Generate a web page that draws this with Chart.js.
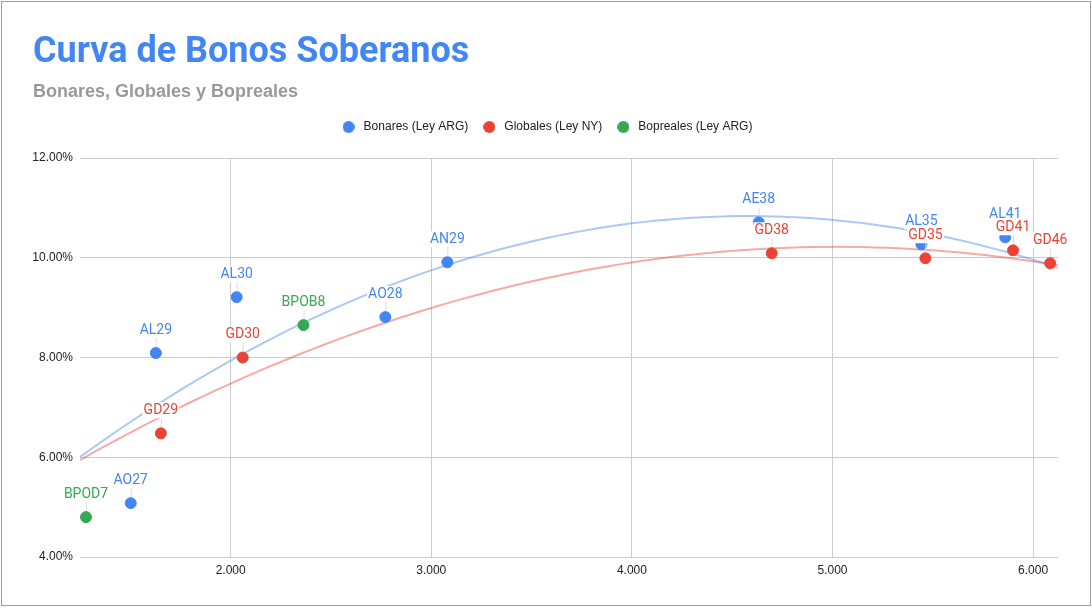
<!DOCTYPE html>
<html>
<head>
<meta charset="utf-8">
<script src="https://cdn.jsdelivr.net/npm/chart.js@4.4.1/dist/chart.umd.min.js"></script>
<style>
  html, body { margin: 0; padding: 0; background: #fff; }
  #wrap { position: relative; width: 1092px; height: 609px; }
  #frame { position: absolute; left: 1px; top: 1px; width: 1088px; height: 603px; border: 1px solid #9e9e9e; pointer-events: none; }
  #title { position: absolute; left: 33px; top: 29px; font: bold 36px Roboto, sans-serif; color: #4285f4; white-space: nowrap; }
  #subtitle { position: absolute; left: 33px; top: 81px; font: bold 18px "Liberation Sans", Arial, sans-serif; color: #999; white-space: nowrap; }
  canvas { position: absolute; left: 0; top: 0; }
</style>
</head>
<body>
<div id="wrap">
  <canvas id="chart" width="1092" height="609"></canvas>
  <div id="title">Curva de Bonos Soberanos</div>
  <div id="subtitle">Bonares, Globales y Bopreales</div>
  <div id="frame"></div>
</div>
<script>
// duration (x) vs TIR (y, %)
const bonaresNames = ['AO27', 'AL29', 'AL30', 'AO28', 'AN29', 'AE38', 'AL35', 'AL41'];
const bonaresX = [1.502, 1.627, 2.030, 2.771, 3.080, 4.632, 5.443, 5.861];
const bonaresY = [5.08, 8.09, 9.21, 8.81, 9.91, 10.71, 10.27, 10.41];

const globalesNames = ['GD29', 'GD30', 'GD38', 'GD35', 'GD41', 'GD46'];
const globalesX = [1.652, 2.060, 4.697, 5.463, 5.900, 6.085];
const globalesY = [6.48, 8.00, 10.09, 9.99, 10.15, 9.89];

const boprealesNames = ['BPOD7', 'BPOB8'];
const boprealesX = [1.279, 2.363];
const boprealesY = [4.80, 8.65];

const xTicks = [2, 3, 4, 5, 6];
const yTicks = [4, 6, 8, 10, 12];
const xMin = 1.249, xMax = 6.124;

const BLUE = '#4285f4', RED = '#ea4335', GREEN = '#34a853';

function points(xs, ys) {
  return xs.map((x, i) => ({x: x, y: ys[i]}));
}

// least squares, order 2 (same as the sheet's polynomial trendline)
function quadFit(xs, ys) {
  let s = [0, 0, 0, 0, 0], t = [0, 0, 0];
  xs.forEach((x, i) => {
    for (let k = 0; k < 5; k++) s[k] += Math.pow(x, k);
    for (let k = 0; k < 3; k++) t[k] += ys[i] * Math.pow(x, k);
  });
  const m = [[s[0], s[1], s[2], t[0]], [s[1], s[2], s[3], t[1]], [s[2], s[3], s[4], t[2]]];
  for (let c = 0; c < 3; c++) {
    for (let r = c + 1; r < 3; r++) {
      const f = m[r][c] / m[c][c];
      for (let k = c; k < 4; k++) m[r][k] -= f * m[c][k];
    }
  }
  const a = [0, 0, 0];
  for (let r = 2; r >= 0; r--) {
    let v = m[r][3];
    for (let k = r + 1; k < 3; k++) v -= m[r][k] * a[k];
    a[r] = v / m[r][r];
  }
  return a;
}

function trend(xs, ys) {
  const a = quadFit(xs, ys);
  const out = [];
  for (let i = 0; i <= 80; i++) {
    const x = xMin + (xMax - xMin) * i / 80;
    out.push({x: x, y: a[0] + a[1] * x + a[2] * x * x});
  }
  return out;
}

// small dot used as legend marker (keeps the circle 12px but gives room before the text)
function dot(color) {
  const c = document.createElement('canvas');
  c.width = 12; c.height = 12;
  const g = c.getContext('2d');
  g.fillStyle = color;
  g.beginPath();
  g.arc(6, 6, 6, 0, Math.PI * 2);
  g.fill();
  return c;
}

const pointLabels = {
  id: 'pointLabels',
  afterDatasetsDraw(chart) {
    const ctx = chart.ctx;
    chart.data.datasets.forEach((ds, i) => {
      if (!ds.names) return;
      chart.getDatasetMeta(i).data.forEach((pt, j) => {
        ctx.save();
        ctx.font = '14px Roboto';
        const w = ctx.measureText(ds.names[j]).width;
        ctx.fillStyle = '#fff';
        ctx.fillRect(pt.x - w / 2 - 1, pt.y - 31, w + 2, 16);
        ctx.strokeStyle = '#dcdcdc';
        ctx.lineWidth = 1;
        ctx.beginPath();
        ctx.moveTo(pt.x + 0.5, pt.y - 6);
        ctx.lineTo(pt.x + 0.5, pt.y - 15);
        ctx.stroke();
        ctx.fillStyle = ds.backgroundColor;
        ctx.textAlign = 'center';
        ctx.textBaseline = 'middle';
        ctx.fillText(ds.names[j], pt.x, pt.y - 23);
        ctx.restore();
      });
    });
  }
};

// extra room under the legend
const legendMargin = {
  id: 'legendMargin',
  beforeInit(chart) {
    const fit = chart.legend.fit;
    chart.legend.fit = function () {
      fit.call(this);
      this.height += 15;
    };
  }
};

function draw() {
  new Chart(document.getElementById('chart'), {
    type: 'scatter',
    data: {
      datasets: [
        {label: 'Bonares (Ley ARG)', names: bonaresNames, data: points(bonaresX, bonaresY),
         backgroundColor: BLUE, borderColor: BLUE, pointRadius: 5.5, order: 1},
        {label: 'Globales (Ley NY)', names: globalesNames, data: points(globalesX, globalesY),
         backgroundColor: RED, borderColor: RED, pointRadius: 5.5, order: 1},
        {label: 'Bopreales (Ley ARG)', names: boprealesNames, data: points(boprealesX, boprealesY),
         backgroundColor: GREEN, borderColor: GREEN, pointRadius: 5.5, order: 1},
        {label: 'trend bonares', data: trend(bonaresX, bonaresY), type: 'line', showLine: true,
         borderColor: 'rgba(66,133,244,0.45)', borderWidth: 2, pointRadius: 0, tension: 0, order: 2},
        {label: 'trend globales', data: trend(globalesX, globalesY), type: 'line', showLine: true,
         borderColor: 'rgba(234,67,53,0.45)', borderWidth: 2, pointRadius: 0, tension: 0, order: 2}
      ]
    },
    options: {
      responsive: false,
      animation: false,
      layout: {padding: {top: 109, right: 17, bottom: 0, left: 17}},
      plugins: {
        tooltip: {enabled: false},
        legend: {
          position: 'top',
          labels: {
            filter: item => item.datasetIndex < 3,
            generateLabels: chart => Chart.defaults.plugins.legend.labels.generateLabels(chart)
              .map(item => Object.assign(item, {pointStyle: dot(item.fillStyle)})),
            usePointStyle: true,
            pointStyleWidth: 18,
            boxHeight: 8.5,
            padding: 12,
            color: '#222',
            font: {family: 'Liberation Sans, Arial', size: 12}
          }
        }
      },
      scales: {
        x: {
          type: 'linear',
          min: xMin,
          max: xMax,
          afterBuildTicks: s => { s.ticks = xTicks.map(v => ({value: v})); },
          afterFit: s => { s.height = 52; },
          grid: {color: '#cccccc', drawTicks: false},
          border: {display: false},
          ticks: {padding: 6, color: '#222', font: {family: 'Liberation Sans, Arial', size: 12},
                  callback: v => v.toFixed(3)}
        },
        y: {
          min: 4,
          max: 12,
          afterBuildTicks: s => { s.ticks = yTicks.map(v => ({value: v})); },
          afterFit: s => { s.width = 63; },
          grid: {color: '#cccccc', drawTicks: false},
          border: {display: false},
          ticks: {padding: 7, color: '#222', font: {family: 'Liberation Sans, Arial', size: 12},
                  callback: v => v.toFixed(2) + '%'}
        },
        // empty strip on the right so the plot ends where the original does
        yRight: {
          position: 'right',
          afterFit: s => { s.width = 17; },
          grid: {display: false},
          border: {display: false},
          ticks: {display: false}
        }
      }
    },
    plugins: [pointLabels, legendMargin]
  });
}

Promise.all([document.fonts.load('14px Roboto'), document.fonts.load('12px "Liberation Sans"')])
  .then(draw, draw);
</script>
</body>
</html>
